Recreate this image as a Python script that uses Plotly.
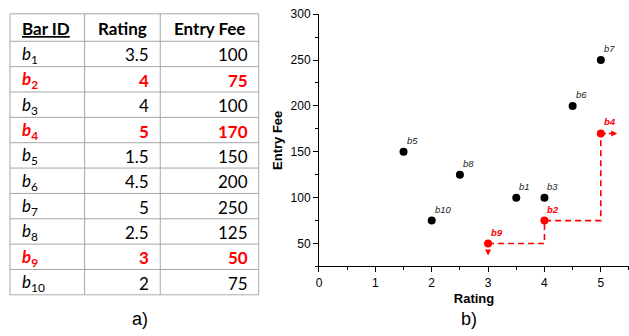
import plotly.graph_objects as go

# Bar data
bar_ids = ["b1", "b2", "b3", "b4", "b5", "b6", "b7", "b8", "b9", "b10"]
ratings = [3.5, 4, 4, 5, 1.5, 4.5, 5, 2.5, 3, 2]
entry_fees = [100, 75, 100, 170, 150, 200, 250, 125, 50, 75]
highlighted = ["b9", "b2", "b4"]  # skyline bars

header_labels = ["<u>Bar ID</u>", "Rating", "Entry Fee"]
x_tick_vals = [0, 1, 2, 3, 4, 5]
y_tick_vals = [50, 100, 150, 200, 250, 300]

RED = "#ff0000"
BLACK = "#000000"
GRID = "#a6a6a6"
TABLE_FONT = "Lato, Carlito, Calibri, 'Open Sans', sans-serif"
PLOT_FONT = "Arial, 'Liberation Sans', sans-serif"

# table geometry (in table-axis units = px)
COL_W = [75, 76, 99]
HEADER_H = 28
ROW_H = 25.9
PAD_L, PAD_R = 10, 9

is_hl = [b in highlighted for b in bar_ids]


def fmt_num(v):
    return str(int(v)) if float(v).is_integer() else str(v)


def cell(txt, hl):
    return f"<b>{txt}</b>" if hl else txt


id_cells = [cell(f"<i>b</i><sub>{b[1:]}</sub>", h) for b, h in zip(bar_ids, is_hl)]
rating_cells = [cell(fmt_num(r), h) for r, h in zip(ratings, is_hl)]
fee_cells = [cell(fmt_num(f), h) for f, h in zip(entry_fees, is_hl)]
row_colors = [RED if h else BLACK for h in is_hl]

fig = go.Figure()

# ---- a) table, drawn on its own hidden axes ----
col_edges = [0]
for w in COL_W:
    col_edges.append(col_edges[-1] + w)
row_edges = [0, HEADER_H] + [HEADER_H + ROW_H * (i + 1) for i in range(len(bar_ids))]
table_w, table_h = col_edges[-1], row_edges[-1]

for xe in col_edges:
    fig.add_shape(type="line", xref="x2", yref="y2", x0=xe, x1=xe, y0=0, y1=table_h,
                  line=dict(color=GRID, width=1))
for ye in row_edges:
    fig.add_shape(type="line", xref="x2", yref="y2", x0=0, x1=table_w, y0=ye, y1=ye,
                  line=dict(color=GRID, width=1))

# header
for j, lab in enumerate(header_labels):
    if j == 0:
        hx, anchor = col_edges[0] + PAD_L, "left"
    else:
        hx, anchor = (col_edges[j] + col_edges[j + 1]) / 2, "center"
    fig.add_annotation(x=hx, y=HEADER_H / 2 + 1, xref="x2", yref="y2",
                       text=f"<b>{lab}</b>", showarrow=False,
                       xanchor=anchor, yanchor="middle",
                       font=dict(family=TABLE_FONT, size=17, color=BLACK))

# body
for i in range(len(bar_ids)):
    yc = (row_edges[i + 1] + row_edges[i + 2]) / 2 + 1
    for j, col in enumerate([id_cells, rating_cells, fee_cells]):
        if j == 0:
            cx, anchor = col_edges[0] + PAD_L, "left"
        else:
            cx, anchor = col_edges[j + 1] - PAD_R, "right"
        fig.add_annotation(x=cx, y=yc, xref="x2", yref="y2", text=col[i],
                           showarrow=False, xanchor=anchor, yanchor="middle",
                           font=dict(family=TABLE_FONT, size=17, color=row_colors[i]))

# ---- b) scatter ----
hl_pts = sorted(
    [(ratings[i], entry_fees[i]) for i in range(len(bar_ids)) if is_hl[i]]
)
path_x, path_y = [hl_pts[0][0]], [hl_pts[0][1]]
for (x0, y0), (x1, y1) in zip(hl_pts[:-1], hl_pts[1:]):
    path_x += [x1, x1]
    path_y += [y0, y1]

fig.add_trace(go.Scatter(
    x=path_x, y=path_y, mode="lines",
    line=dict(color=RED, width=1.6, dash="6px,4px"),
    hoverinfo="skip", showlegend=False,
))

# short dashed exits leaving the skyline ends
lo, hi = hl_pts[0], hl_pts[-1]
fig.add_trace(go.Scatter(
    x=[hi[0], hi[0] + 0.22], y=[hi[1], hi[1]], mode="lines",
    line=dict(color=RED, width=1.6, dash="5px,3px"),
    hoverinfo="skip", showlegend=False,
))

fig.add_trace(go.Scatter(
    x=ratings, y=entry_fees, mode="markers",
    marker=dict(size=8, color=row_colors),
    showlegend=False,
))

fig.add_annotation(x=lo[0], y=lo[1] - 13, ax=lo[0], ay=lo[1] - 6, xref="x", yref="y",
                   axref="x", ayref="y", showarrow=True, arrowhead=2,
                   arrowsize=0.8, arrowwidth=1.5, arrowcolor=RED, text="")
fig.add_annotation(x=hi[0] + 0.29, y=hi[1], ax=hi[0] + 0.2, ay=hi[1], xref="x", yref="y",
                   axref="x", ayref="y", showarrow=True, arrowhead=2,
                   arrowsize=0.8, arrowwidth=1.5, arrowcolor=RED, text="")

for b, r, f, h in zip(bar_ids, ratings, entry_fees, is_hl):
    fig.add_annotation(
        x=r, y=f, xref="x", yref="y",
        text=f"<b>{b}</b>" if h else b,
        showarrow=False, xanchor="left", yanchor="bottom",
        xshift=1, yshift=4,
        font=dict(family=PLOT_FONT, size=9.5, color=RED if h else "#222222",
                  style="italic"),
    )

axis_common = dict(
    showline=True, linecolor=BLACK, linewidth=1, mirror=False,
    showgrid=False, zeroline=False, ticks="outside", ticklen=5,
    tickcolor=BLACK, tickfont=dict(family=PLOT_FONT, size=12, color=BLACK),
)

fig.update_layout(
    xaxis=dict(
        **axis_common, domain=[317.5 / 629, 1.0], range=[0, 5.5],
        tickvals=x_tick_vals,
        minor=dict(ticks="outside", ticklen=3, dtick=0.5, tick0=0, tickcolor=BLACK),
        title=dict(text="Rating", standoff=5,
                   font=dict(family=PLOT_FONT, size=13, color=BLACK, weight="bold")),
    ),
    yaxis=dict(
        **axis_common, domain=[1 - 265 / 336, 1 - 7.3 / 336], range=[25, 300],
        tickvals=y_tick_vals,
        minor=dict(ticks="outside", ticklen=3, dtick=25, tick0=0, tickcolor=BLACK),
        title=dict(text="Entry Fee", standoff=5,
                   font=dict(family=PLOT_FONT, size=13, color=BLACK, weight="bold")),
    ),
    xaxis2=dict(domain=[6 / 629, 258 / 629], range=[-1, table_w + 1], visible=False,
                fixedrange=True, anchor="y2"),
    yaxis2=dict(domain=[1 - 295 / 336, 1 - 6 / 336], range=[table_h + 1, -1],
                visible=False, fixedrange=True, anchor="x2"),
)

# panel captions
for txt, xp in [("a)", 138 / 629), ("b)", 468 / 629)]:
    fig.add_annotation(x=xp, y=1 - 319 / 336, xref="paper", yref="paper",
                       text=txt, showarrow=False, xanchor="center", yanchor="middle",
                       font=dict(family=PLOT_FONT, size=18, color=BLACK))

fig.update_layout(
    width=629, height=336, autosize=False,
    margin=dict(l=0, r=0, t=0, b=0),
    paper_bgcolor="white", plot_bgcolor="white",
    showlegend=False,
)

fig.write_html("out.html")
